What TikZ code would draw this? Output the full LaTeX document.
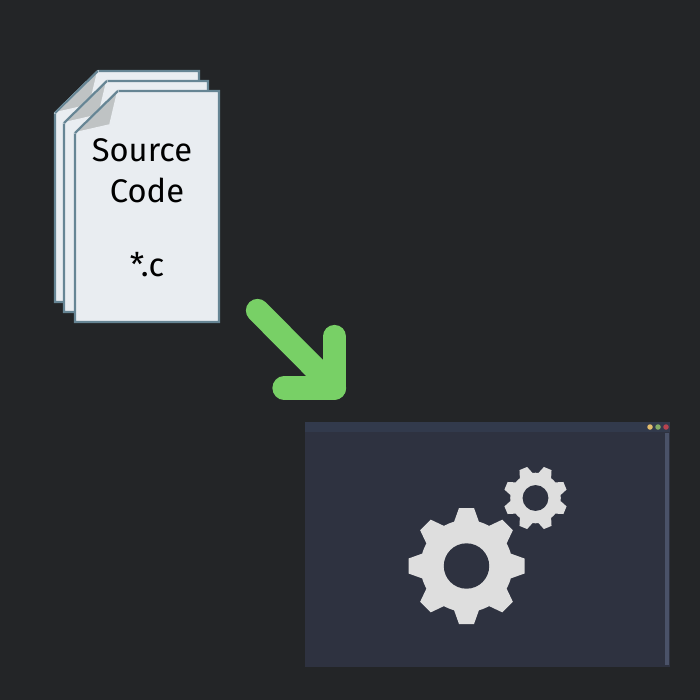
\documentclass[tikz,border=0pt]{standalone}
\usepackage{fontspec}
\setmainfont{Fira Sans}

\definecolor{backdrop}{HTML}{232527}
\definecolor{windowbody}{HTML}{2E3240}
\definecolor{windowbar}{HTML}{323A4C}
\definecolor{windowscroll}{HTML}{4A5268}
\definecolor{pagefill}{HTML}{E9EDF1}
\definecolor{pageedge}{HTML}{668594}
\definecolor{flapfill}{HTML}{BFC3C4}
\definecolor{arrowgreen}{HTML}{78D066}
\definecolor{gearfill}{HTML}{DEDEDE}
\definecolor{dotyellow}{HTML}{E2BC6C}
\definecolor{dotgreen}{HTML}{84AC66}
\definecolor{dotred}{HTML}{B8434F}

\tikzstyle{page}=[fill=pagefill, draw=pageedge, line width=0.6pt, line join=miter]
\tikzstyle{flap}=[fill=flapfill, draw=pagefill, line width=0.5pt, line join=round]
\tikzstyle{label}=[text=black, inner sep=0pt, font=\fontsize{9.3pt}{11pt}\selectfont]
\tikzstyle{bigarrow}=[draw=arrowgreen, line width=6.6pt, line cap=round, line join=round]
\tikzstyle{windowdot}=[circle, inner sep=0pt, minimum size=0.55mm]

% one sheet, origin at its lower flap corner
\newcommand{\sheet}[3]{
	\fill[page, shift={(#1,#2)}] (0,0) -- (43,-42) -- (#3,-42) -- (#3,189) -- (0,189) -- cycle;
	\fill[flap, shift={(#1,#2)}] (0,0) -- (43,-42) -- (35,-8) -- cycle;
	\draw[page, fill=none, shift={(#1,#2)}] (0,0) -- (43,-42);
}

% eight teeth around a disc, with a hole in window colour
\newcommand{\gearicon}[5]{
	\begin{scope}[shift={(#1,#2)}, scale=#3]
		\fill[gearfill] (0,0) circle (46);
		\foreach \a in {0,45,...,315}{
			\fill[gearfill, rotate=\a+#4] (44,-12.5) -- (58,-7.5) -- (58,7.5) -- (44,12.5) -- cycle;
		}
		\fill[windowbody] (0,0) circle (#5);
	\end{scope}
}

\begin{document}
\begin{tikzpicture}[x=0.01cm, y=-0.01cm]
	\useasboundingbox (0,0) rectangle (700,700);
	\fill[backdrop] (0,0) rectangle (700,700);

	\sheet{55}{113}{144}
	\sheet{64}{123}{144}
	\sheet{75}{133}{144}

	\node[label] (source) at (142,150) {Source};
	\node[label] (code) at (147,190) {Code};
	\node[label] (ext) at (147,265) {*.c};

	\coordinate (tail) at (257.5,310.5);
	\coordinate (tip) at (334.5,388);
	\coordinate (barbup) at (334.5,336.5);
	\coordinate (barbleft) at (284,388);
	\draw[bigarrow] (tail) -- (tip);
	\draw[bigarrow] (barbup) -- (tip) -- (barbleft);

	\fill[windowbody] (305,422) rectangle (670,667);
	\fill[windowbar] (305,422) rectangle (670,432);
	\fill[windowscroll] (665,433) rectangle (669,665);
	\node[windowdot, fill=dotyellow] (dotleft) at (650,427) {};
	\node[windowdot, fill=dotgreen] (dotmid) at (658,427) {};
	\node[windowdot, fill=dotred] (dotright) at (666,427) {};

	\gearicon{466.5}{566}{1}{0}{22.7}
	\gearicon{535.5}{498}{0.55}{22.5}{23.5}
\end{tikzpicture}
\end{document}
